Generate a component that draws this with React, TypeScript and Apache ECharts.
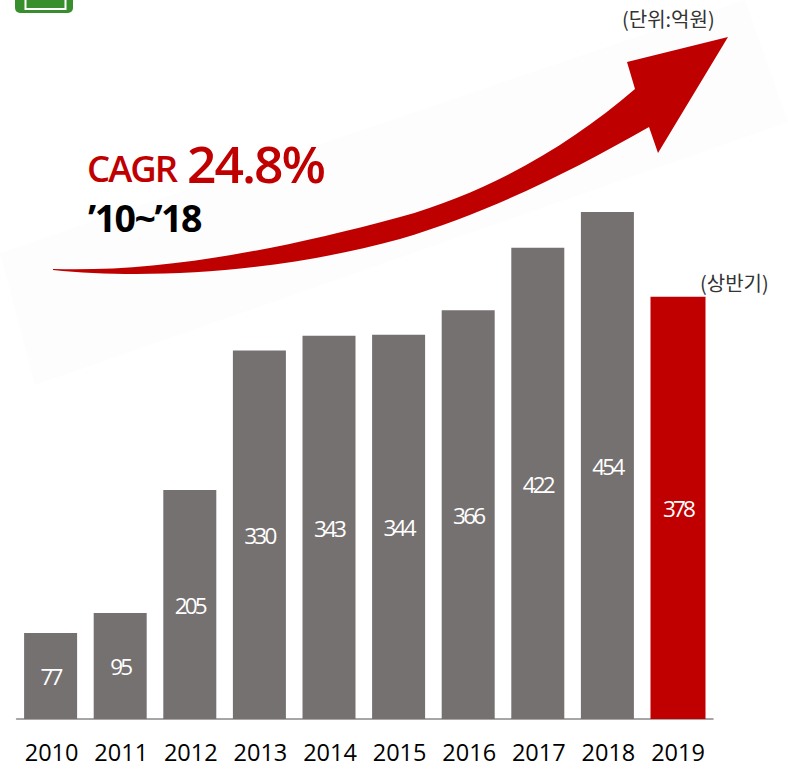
import React, { useEffect, useRef } from "react";
import * as echarts from "echarts";

const years = ["2010", "2011", "2012", "2013", "2014", "2015", "2016", "2017", "2018", "2019"];
const annualValues = [77, 95, 205, 330, 343, 344, 366, 422, 454, null];
const halfYearValues = [null, null, null, null, null, null, null, null, null, 378];
const unitText = "(단위:억원)";
const halfText = "(상반기)";
const cagrLabel = "CAGR";
const cagrValue = "24.8%";
const cagrPeriod = "’10~’18";

const arrowPath =
  "M53,269 C150,272 260,255 400,217 C490,192 570,145 635,89 L627,62 L728,37 L658,153 L649,127 C570,172 490,212 400,239 C280,272 150,280 53,270 Z";
echarts.graphic.registerShape("growthArrow", echarts.graphic.extendPath(arrowPath as any, {}) as any);

const css = `
#chart text[style*="22.5px"] { letter-spacing: -2.8px; }
#chart text[style*="36.5px"] { letter-spacing: -2px; }
#chart text[style*="51.5px"] { letter-spacing: -2px; }
#chart text[style*="37.5px"] { letter-spacing: -1.5px; }
`;

export default function App() {
  const ref = useRef<HTMLDivElement>(null);
  useEffect(() => {
    document.body.style.margin = "0";
    const chart = echarts.init(ref.current!, undefined, { renderer: "svg" });
    const font = "'Open Sans', 'Noto Sans', sans-serif";
    const label = {
      show: true,
      position: "inside" as const,
      offset: [0, 1],
      color: "#ffffff",
      fontFamily: font,
      fontSize: 22.5,
    };
    chart.setOption({
      animation: false,
      backgroundColor: "#ffffff",
      grid: { left: 16.8, width: 696, top: 160.5, height: 558.5 },
      xAxis: {
        type: "category",
        data: years,
        axisTick: { show: false },
        axisLine: { lineStyle: { color: "#a6a6a6", width: 2 } },
        axisLabel: { color: "#000000", fontFamily: font, fontSize: 23.5, margin: 21, interval: 0 },
      },
      yAxis: { type: "value", min: 0, max: 500, show: false, splitLine: { show: false } },
      series: [
        {
          type: "bar",
          data: annualValues,
          barWidth: 53,
          barGap: "-100%",
          itemStyle: { color: "#767171" },
          label,
        },
        {
          type: "bar",
          data: halfYearValues,
          barWidth: 55,
          barGap: "-100%",
          itemStyle: { color: "#c00000" },
          label,
        },
      ],
      graphic: [
        { type: "rect", z: -1, shape: { x: 15, y: -10, width: 58, height: 23, r: 5 }, style: { fill: "#388e2c" } },
        { type: "rect", z: 0, shape: { x: 25.5, y: -6, width: 40, height: 15 }, style: { fill: "transparent", stroke: "#ffffff", lineWidth: 2 } },
        { type: "polygon", z: -2, shape: { points: [[0, 253], [745, 0], [788, 122], [35, 385]] }, style: { fill: "#fdfdfd" } },
        { type: "growthArrow", z: 1, style: { fill: "#bf0000" } },
        { type: "text", z: 2, x: 87, y: 168, style: { text: cagrLabel, fill: "#c00000", font: `600 36.5px ${font}`, verticalAlign: "middle" } },
        { type: "text", z: 2, x: 187, y: 162.5, style: { text: cagrValue, fill: "#c00000", font: `600 51.5px ${font}`, verticalAlign: "middle" } },
        { type: "text", z: 2, x: 88, y: 217, style: { text: cagrPeriod, fill: "#000000", font: `700 37.5px ${font}`, verticalAlign: "middle" } },
        { type: "text", z: 2, x: 622, y: 18, style: { text: unitText, fill: "#333333", font: "20px 'Noto Sans CJK KR', sans-serif", verticalAlign: "middle" } },
        { type: "text", z: 2, x: 700, y: 282, style: { text: halfText, fill: "#333333", font: "20px 'Noto Sans CJK KR', sans-serif", verticalAlign: "middle" } },
      ],
    });
    return () => chart.dispose();
  }, []);
  return (
    <>
      <style>{css}</style>
      <div id="chart" ref={ref} style={{ width: 788, height: 771 }} />
    </>
  );
}
